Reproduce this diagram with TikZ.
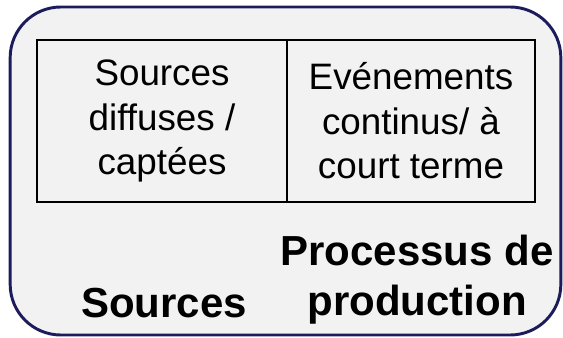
\documentclass[tikz,border=0pt]{standalone}
\usepackage{fontspec}
\setmainfont{Liberation Sans}
\usetikzlibrary{positioning}
\definecolor{marine}{RGB}{28,28,92}
\definecolor{fond}{RGB}{242,242,242}

\begin{document}
\begin{tikzpicture}[x=0.75pt, y=-0.75pt]

        % Styles
        \tikzstyle{cadre}=[rectangle, draw=marine, fill=fond, line width=2.2pt, rounded corners=38pt, minimum width=413pt, minimum height=246pt]
        \tikzstyle{cellule}=[rectangle, draw, line width=0.9pt, align=center, minimum height=121.5pt, inner sep=0pt, outer sep=0pt, font=\fontsize{27.6}{33.4}\selectfont]
        \tikzstyle{titre}=[align=center, inner sep=0pt, font=\fontsize{31.5}{37.5}\selectfont\bfseries]

        \useasboundingbox (0,0) rectangle (563,338);

        % Cadre
        \node[cadre] (cadre) at (285.5,171) {};

        % Cellules
        \node[cellule, minimum width=187.5pt] (diffuses) at (162,121) {Sources\\diffuses /\\captées};
        \node[cellule, minimum width=186pt, right=0pt of diffuses] (evenements) {Evénements\\continus/ à\\court terme};

        % Titres
        \node[titre, anchor=base] (sources) at (164,317) {Sources};
        \node[titre, anchor=north] (processus) at (417,235) {Processus de\\production};

\end{tikzpicture}
\end{document}
